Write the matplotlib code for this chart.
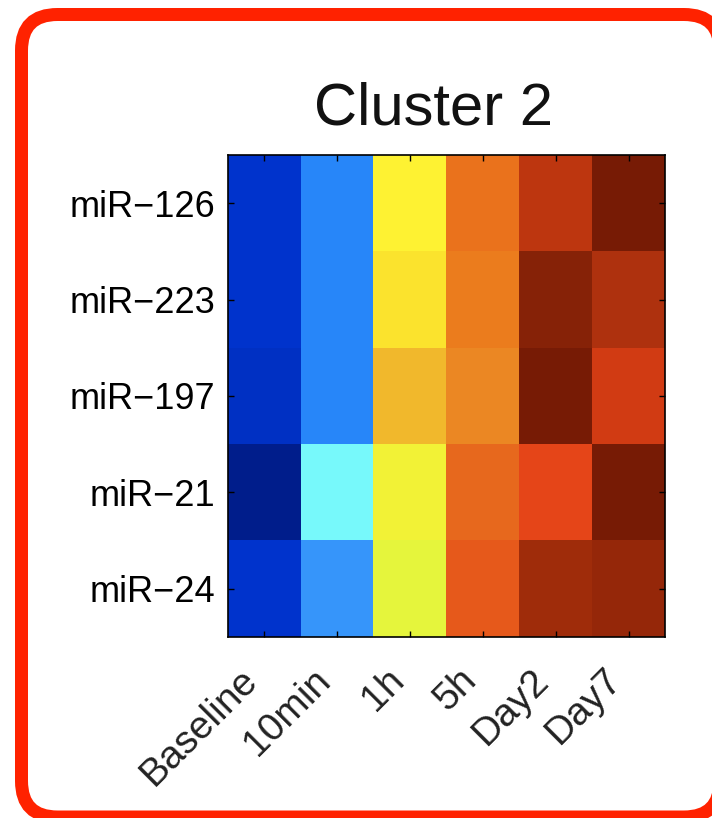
import numpy as np
import matplotlib
matplotlib.use('Agg')
import matplotlib.pyplot as plt
from matplotlib.patches import FancyBboxPatch
from matplotlib.colors import LinearSegmentedColormap
from matplotlib.transforms import ScaledTranslation

# Data
genes = ['miR\u2212126', 'miR\u2212223', 'miR\u2212197', 'miR\u221221', 'miR\u221224']
times = ['Baseline', '10min', '1h', '5h', 'Day2', 'Day7']
mir126 = [0.14, 0.27, 0.61, 0.76, 0.90, 0.99]
mir223 = [0.14, 0.27, 0.64, 0.75, 0.97, 0.93]
mir197 = [0.13, 0.27, 0.69, 0.74, 0.99, 0.88]
mir21 = [0.07, 0.40, 0.60, 0.78, 0.85, 0.99]
mir24 = [0.14, 0.29, 0.58, 0.80, 0.94, 0.95]

values = np.array([mir126, mir223, mir197, mir21, mir24])

# jet-like colormap, as it looks in the (washed out) source picture
cmap_stops = [
    (0.00, (0, 15, 110)),
    (0.07, (0, 30, 140)),
    (0.14, (0, 52, 205)),
    (0.27, (40, 135, 250)),
    (0.29, (55, 150, 250)),
    (0.40, (120, 250, 252)),
    (0.58, (230, 245, 60)),
    (0.60, (242, 242, 55)),
    (0.61, (255, 242, 50)),
    (0.64, (252, 228, 45)),
    (0.69, (242, 185, 45)),
    (0.74, (235, 135, 35)),
    (0.75, (235, 125, 30)),
    (0.76, (235, 115, 28)),
    (0.78, (232, 105, 30)),
    (0.80, (230, 90, 28)),
    (0.85, (230, 70, 25)),
    (0.88, (210, 60, 20)),
    (0.90, (190, 55, 15)),
    (0.93, (175, 50, 15)),
    (0.94, (160, 45, 10)),
    (0.95, (150, 40, 10)),
    (0.97, (135, 35, 8)),
    (0.99, (120, 28, 5)),
    (1.00, (115, 26, 5)),
]
cmap = LinearSegmentedColormap.from_list(
    'jet_screen', [(p, tuple(c / 255 for c in rgb)) for p, rgb in cmap_stops], N=1024)

plt.rcParams['font.family'] = ['Liberation Sans', 'DejaVu Sans']

W, H = 712, 818
fig = plt.figure(figsize=(W / 100, H / 100), dpi=100)

# Red rounded frame drawn in pixel coordinates
bg = fig.add_axes([0, 0, 1, 1])
bg.set_xlim(0, W)
bg.set_ylim(H, 0)
bg.axis('off')
bg.add_patch(FancyBboxPatch((21.5, 14.5), 720 - 21.5, 817 - 14.5,
                            boxstyle='round,pad=0,rounding_size=36',
                            facecolor='white', edgecolor='#ff2200', lw=13 * 0.72))

# Heatmap axes
left, right, top, bottom = 228, 665, 155, 637
ax = fig.add_axes([left / W, 1 - bottom / H, (right - left) / W, (bottom - top) / H])
ax.imshow(values, cmap=cmap, vmin=0, vmax=1, aspect='auto', interpolation='nearest')

ax.set_xticks(range(len(times)))
ax.set_xticklabels(times, rotation=45, ha='right', va='center', rotation_mode='anchor', fontsize=28)
ax.set_yticks(range(len(genes)))
ax.set_yticklabels(genes, fontsize=26, color='#222222')
ax.tick_params(direction='in', length=4, width=1, top=True, right=True, pad=9, colors='black')
ax.tick_params(axis='x', pad=27, labelcolor='#222222')
for lbl in ax.get_xticklabels():
    lbl.set_transform(lbl.get_transform() + ScaledTranslation(-0.12, 0, fig.dpi_scale_trans))
for s in ax.spines.values():
    s.set_linewidth(1.2)

ax.set_title('Cluster 2', fontsize=43, pad=22, x=0.47, color='#111111')

fig.savefig('out.png', dpi=100)
